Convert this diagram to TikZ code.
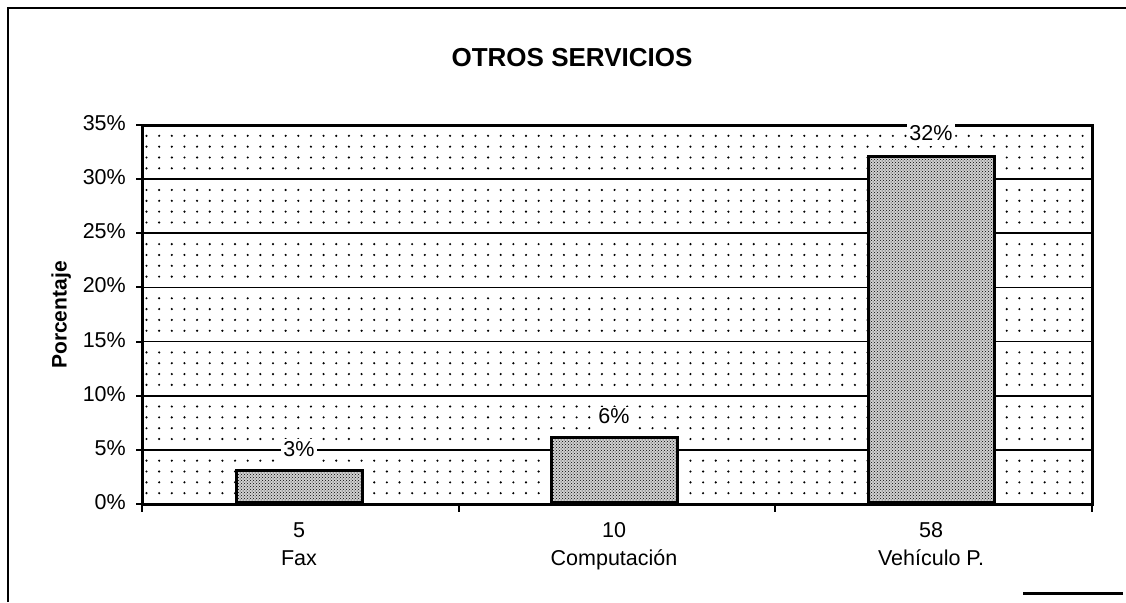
\documentclass[tikz,border=0pt]{standalone}
\usepackage{fontspec}
\setmainfont{Liberation Sans}
\usetikzlibrary{patterns,positioning}
\begin{document}
\begin{tikzpicture}[x=1pt,y=-1pt,
  txt/.style={font=\fontsize{21.5}{25}\selectfont, inner sep=1pt, text height=15pt, text depth=4pt},
  ylab/.style={txt, anchor=east},
  vlab/.style={txt, fill=white, inner sep=2pt, anchor=south},
  barbox/.style={draw=black, line width=3pt, preaction={fill=black!18}, pattern=crosshatch dots, pattern color=black, minimum width=126pt, anchor=south, inner sep=0pt},
  grid/.style={line width=1.8pt},
  axis/.style={line width=3pt},
  frame/.style={line width=2pt}]
\useasboundingbox (0,0) rectangle (1126,602);
% outer frame
\draw[frame] (8,602) -- (8,8) -- (1126,8);
\coordinate (s1) at (1023,593);
\coordinate (s2) at (1123,593);
\draw[line width=3pt] (s1) -- (s2);
% title
\node[font=\fontsize{26}{30}\selectfont\bfseries] (title) at (572,58) {OTROS SERVICIOS};
% background dots
\foreach \j in {0,...,6}{
  \foreach \r in {1,...,4}{
    \foreach \i in {0,...,74}{
      \fill ({146.5+\i*12.65},{504-\j*54.14-\r*10.83}) circle[radius=1.2];
    }
  }
}
% gridlines
\foreach \v in {1,...,6}{
  \draw[grid] (142,{504-\v*54.14}) -- (1092,{504-\v*54.14});
}
% plot area
\coordinate (o) at (142,504);
\coordinate (tl) at (142,125);
\coordinate (tr) at (1092,125);
\coordinate (br) at (1092,504);
\draw[axis] (o) -- (tl) -- (tr) -- (br) -- cycle;
% y ticks and labels
\foreach \v/\t in {0/0\%,1/5\%,2/10\%,3/15\%,4/20\%,5/25\%,6/30\%,7/35\%}{
  \draw[line width=2pt] (136,{504-\v*54.14}) -- (142,{504-\v*54.14});
  \node[ylab] (y\v) at (127,{504-\v*54.14}) {\t};
}
% x ticks
\foreach \x in {142,458.7,775.3,1092}{
  \draw[line width=2pt] (\x,504) -- (\x,512);
}
% bars
\node[barbox, minimum height=32.5pt] (b1) at (299,504) {};
\node[barbox, minimum height=65pt] (b2) at (614,504) {};
\node[barbox, minimum height=346.5pt] (b3) at (931,504) {};
% value labels
\node[vlab, above=6pt of b1.north, anchor=south] (v1) {3\%};
\node[vlab, above=6pt of b2.north, anchor=south] (v2) {6\%};
\node[vlab, above=8pt of b3.north, anchor=south] (v3) {32\%};
% category labels
\node[txt] (n1) at (299,532) {5};
\node[txt] (c1) at (299,560) {Fax};
\node[txt] (n2) at (614,532) {10};
\node[txt] (c2) at (614,560) {Computación};
\node[txt] (n3) at (931,532) {58};
\node[txt] (c3) at (931,560) {Vehículo P.};
% axis title
\node[txt, font=\fontsize{21}{24}\selectfont\bfseries, rotate=90] (yt) at (61,315) {Porcentaje};
\end{tikzpicture}
\end{document}
